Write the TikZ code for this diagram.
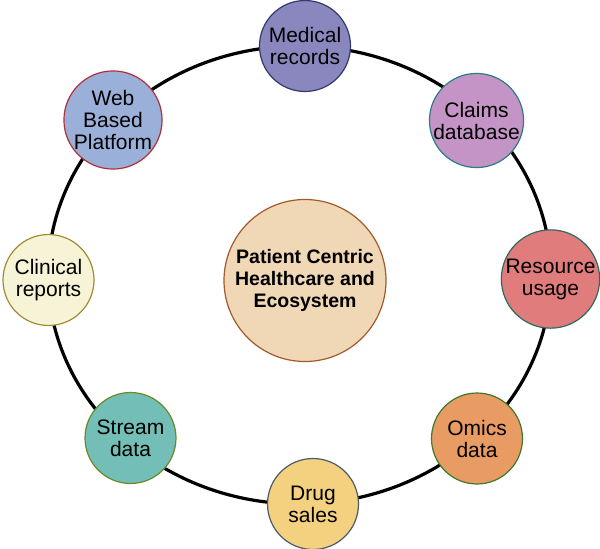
\documentclass[tikz,border=0pt]{standalone}
\usepackage{fontspec}
\setmainfont{Liberation Sans}
\usepackage{tikz}

\definecolor{medfill}{HTML}{8A86BE}\definecolor{meddraw}{HTML}{2F3B6C}
\definecolor{clmfill}{HTML}{C594C6}\definecolor{clmdraw}{HTML}{2D7C84}
\definecolor{resfill}{HTML}{E07C7C}\definecolor{resdraw}{HTML}{2E6B5C}
\definecolor{omcfill}{HTML}{E99B64}\definecolor{omcdraw}{HTML}{3D7A2C}
\definecolor{drgfill}{HTML}{F3D17F}\definecolor{drgdraw}{HTML}{4B5B6A}
\definecolor{strfill}{HTML}{73BEB6}\definecolor{strdraw}{HTML}{6A8A2A}
\definecolor{clnfill}{HTML}{F6F3D7}\definecolor{clndraw}{HTML}{A38B32}
\definecolor{webfill}{HTML}{9BB0D9}\definecolor{webdraw}{HTML}{B0303A}
\definecolor{hubfill}{HTML}{F0D8B6}\definecolor{hubdraw}{HTML}{A2592B}

\begin{document}
\begin{tikzpicture}[x=1pt, y=-1pt,
    source/.style ={circle, draw, line width=1.2pt, minimum size=91pt, inner sep=0pt,
      align=center, font=\fontsize{21}{22}\selectfont},
    hub/.style ={circle, draw=hubdraw, fill=hubfill, line width=1.2pt, minimum size=162pt,
      inner sep=0pt, align=center, font=\fontsize{19.5}{22}\selectfont\bfseries},
    ring/.style ={line width=3.2pt}]
   \useasboundingbox (0,0) rectangle (600,549);
   \coordinate (O) at (299.5,275);
   \draw[ring] (O) ellipse [x radius=251.5pt, y radius=229pt];
   \node[hub] (H) at (305,280.5) {Patient Centric\\Healthcare and\\Ecosystem};
   \node[source, fill=medfill, draw=meddraw] (M) at (305,46)  {Medical\\records};
   \node[source, fill=clmfill, draw=clmdraw] (C) at (476.5,120.5)  {Claims\\database};
   \node[source, fill=resfill, draw=resdraw] (R) at (550.5,279)  {Resource\\usage};
   \node[source, fill=omcfill, draw=omcdraw] (O2) at (477,438.5)  {Omics\\data};
   \node[source, fill=drgfill, draw=drgdraw] (D) at (313,504)  {Drug\\sales};
   \node[source, fill=strfill, draw=strdraw] (S) at (130.5,438)  {Stream\\data};
   \node[source, fill=clnfill, draw=clndraw] (L) at (48.5,280)  {Clinical\\reports};
   \node[source, fill=webfill, draw=webdraw] (W) at (113,120)  {Web\\Based\\Platform};
 \end{tikzpicture}
\end{document}
